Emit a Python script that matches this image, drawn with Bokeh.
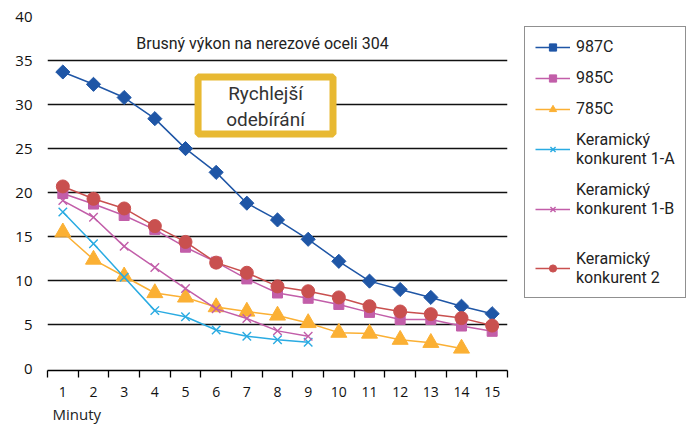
from bokeh.plotting import figure
from bokeh.models import (Range1d, FixedTicker, Legend, LegendItem, Label, BoxAnnotation, Title)
from bokeh.embed import file_html
from bokeh.resources import INLINE

minutes = list(range(1, 16))
minutes_9 = list(range(1, 10))
minutes_14 = list(range(1, 15))

s_987c = [33.7, 32.3, 30.8, 28.4, 25.0, 22.3, 18.8, 16.9, 14.7, 12.2, 9.95, 9.0, 8.1, 7.1, 6.25]
s_985c = [19.9, 18.7, 17.4, 15.8, 13.8, 12.1, 10.2, 8.6, 8.0, 7.3, 6.4, 5.6, 5.6, 4.85, 4.25]
s_785c = [15.5, 12.4, 10.5, 8.6, 8.1, 7.0, 6.5, 6.05, 5.2, 4.1, 4.0, 3.3, 2.95, 2.3]
s_k1a = [17.8, 14.2, 10.4, 6.6, 5.9, 4.4, 3.7, 3.3, 3.0]
s_k1b = [19.1, 17.2, 13.9, 11.5, 9.1, 6.8, 5.7, 4.3, 3.7]
s_k2 = [20.7, 19.3, 18.2, 16.2, 14.4, 12.05, 10.9, 9.35, 8.8, 8.1, 7.1, 6.5, 6.2, 5.75, 4.9]

labels = ["987C", "985C", "785C", "Keramický\nkonkurent 1-A",
          "Keramický\nkonkurent 1-B\n ", "Keramický\nkonkurent 2"]
title_text = "Brusný výkon na nerezové oceli 304"
box_text = "Rychlejší\nodebírání"
x_title = "Minuty"
y_ticks = [0, 5, 10, 15, 20, 25, 30, 35, 40]

C_BLUE = "#1F56A6"
C_PINK = "#C25EA9"
C_ORANGE = "#FBB034"
C_CYAN = "#2AABE2"
C_RED = "#C9504F"

NARROW = "Roboto"
TICKF = "Open Sans"

p = figure(width=689, height=425, output_backend="svg", toolbar_location=None,
           x_range=Range1d(0.5, 15.5), y_range=Range1d(-0.2, 40),
           min_border_left=47, min_border_top=16, min_border_right=182, min_border_bottom=55,
           frame_width=460, frame_height=354)
p.outline_line_color = None
p.background_fill_color = "white"

# axes
p.xaxis.ticker = FixedTicker(ticks=minutes, minor_ticks=[m + 0.5 for m in range(0, 16)])
p.xaxis.major_tick_line_color = None
p.xaxis.major_tick_out = 0
p.xaxis.major_tick_in = 0
p.xaxis.minor_tick_line_color = "black"
p.xaxis.minor_tick_out = 7
p.xaxis.minor_tick_in = 0
p.xaxis.minor_tick_line_width = 1.3
p.xaxis.axis_line_color = "black"
p.xaxis.axis_line_width = 1.3
p.xaxis.major_label_standoff = 9
p.xaxis.major_label_text_font = TICKF
p.xaxis.major_label_text_font_size = "14px"
p.xaxis.major_label_text_color = "#111111"

p.yaxis.ticker = FixedTicker(ticks=y_ticks)
p.yaxis.axis_line_color = None
p.yaxis.major_tick_line_color = None
p.yaxis.minor_tick_line_color = None
p.yaxis.major_tick_out = 0
p.yaxis.major_label_standoff = 15
p.yaxis.major_label_text_font = TICKF
p.yaxis.major_label_text_font_size = "15px"
p.yaxis.major_label_text_color = "#111111"

p.xgrid.grid_line_color = None
p.ygrid.ticker = FixedTicker(ticks=y_ticks[1:])
p.ygrid.grid_line_color = "#111111"
p.ygrid.grid_line_width = 1.3

# series
r1l = p.line(minutes, s_987c, line_color=C_BLUE, line_width=1.5)
r1m = p.scatter(minutes, s_987c, marker="square", angle=0.785398, size=10, fill_color=C_BLUE, line_color=C_BLUE)

r2l = p.line(minutes, s_985c, line_color=C_PINK, line_width=1.5)
r2m = p.scatter(minutes, s_985c, marker="square", size=10, fill_color=C_PINK, line_color=C_PINK)

r3l = p.line(minutes_14, s_785c, line_color=C_ORANGE, line_width=1.5)
r3m = p.scatter(minutes_14, s_785c, marker="triangle", size=16, fill_color=C_ORANGE, line_color=C_ORANGE)

r4l = p.line(minutes_9, s_k1a, line_color=C_CYAN, line_width=1.5)
r4m = p.scatter(minutes_9, s_k1a, marker="x", size=12, line_color=C_CYAN, line_width=1.4)

r5l = p.line(minutes_9, s_k1b, line_color=C_PINK, line_width=1.5)
r5m = p.scatter(minutes_9, s_k1b, marker="x", size=12, line_color=C_PINK, line_width=1.4)

r6l = p.line(minutes, s_k2, line_color=C_RED, line_width=1.5)
r6m = p.scatter(minutes, s_k2, marker="circle", size=13, fill_color=C_RED, line_color=C_RED)

# annotations
p.add_layout(Label(x=7.51, y=36.93, text=title_text, text_align="center", text_baseline="middle",
                   text_font=NARROW, text_font_size="16px", text_color="#222222"))

p.add_layout(BoxAnnotation(left=5.41, right=9.81, bottom=26.66, top=33.13,
                           fill_color="white", fill_alpha=1.0,
                           line_color="#E8B932", line_width=7, line_alpha=1.0))
p.add_layout(Label(x=7.61, y=29.78, text=box_text, text_align="center", text_baseline="middle",
                   text_font=NARROW, text_font_size="19px", text_color="#333333", text_line_height=1.1))

p.add_layout(Title(text=x_title, align="left", offset=5, text_font=TICKF, text_font_size="15px",
                   text_font_style="normal", text_color="#222222", standoff=5), "below")

# legend
items = [
    LegendItem(label=labels[0], renderers=[r1l, r1m]),
    LegendItem(label=labels[1], renderers=[r2l, r2m]),
    LegendItem(label=labels[2], renderers=[r3l, r3m]),
    LegendItem(label=labels[3], renderers=[r4l, r4m]),
    LegendItem(label=labels[4], renderers=[r5l, r5m]),
    LegendItem(label=labels[5], renderers=[r6l, r6m]),
]
legend = Legend(items=items, location=(17, 72), orientation="vertical",
                border_line_color="#222222", border_line_width=1.3,
                background_fill_color="white", background_fill_alpha=1.0,
                label_text_font=NARROW, label_text_font_size="16px", label_text_color="#222222",
                label_text_line_height=1.15,
                glyph_width=35, glyph_height=18, label_standoff=6, label_height=18,
                spacing=12, padding=10, margin=0)
p.add_layout(legend, "right")

open("out.html", "w").write(file_html(p, INLINE))
